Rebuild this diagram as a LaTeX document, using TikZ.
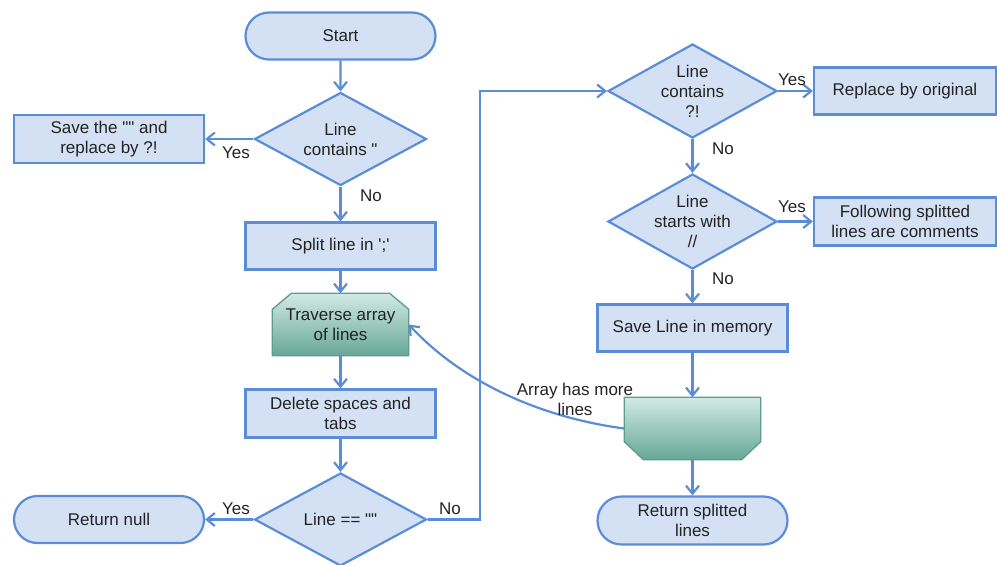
\documentclass[tikz,border=0pt]{standalone}
\usepackage{fontspec}
\newfontfamily\diagfont{Liberation Sans}
\usetikzlibrary{shapes.geometric,shapes.misc,arrows.meta,calc,backgrounds}
\definecolor{boxfill}{HTML}{D4E1F5}
\definecolor{boxline}{HTML}{5B8DD7}
\definecolor{tealtop}{HTML}{D2EAE3}
\definecolor{tealbot}{HTML}{66A796}
\definecolor{tealline}{HTML}{5E9C8B}
\definecolor{ink}{HTML}{222222}
\begin{document}
\begin{tikzpicture}[x=1pt,y=-1pt,
  font=\diagfont\fontsize{17}{20}\selectfont,
  box/.style={rectangle, draw=boxline, fill=boxfill, line width=2.2pt,
    minimum width=190pt, minimum height=47pt, align=center, inner sep=0pt, text=ink},
  term/.style={box, rounded rectangle},
  dec/.style={diamond, draw=boxline, fill=boxfill, line width=2.2pt,
    minimum width=172pt, minimum height=93pt, inner sep=0pt},
  loopbox/.style={rectangle, minimum width=136pt, minimum height=62pt,
    align=center, inner sep=0pt, text=ink},
  loopfill/.style={draw=tealline, top color=tealtop, bottom color=tealbot, line width=1.3pt},
  lbl/.style={align=center, text=ink, inner sep=0pt},
  arr/.style={draw=boxline, line width=2.2pt, -{Straight Barb[length=8pt,width=13pt]}}
]
\useasboundingbox (0,0) rectangle (997,565);

% left column
\node[term] (start) at (340.5,36) {Start};
\node[dec] (d1) at (340.5,139) {};
\node[lbl] at (d1) {Line\\contains "};
\node[box, minimum height=48pt] (save) at (109,139) {Save the "" and\\replace by ?!};
\node[box] (split) at (340.5,246) {Split line in ';'};
\node[loopbox] (trav) at (340.5,324.5) {Traverse array\\of lines};
\node[box, minimum height=48pt] (del) at (340.5,413.5) {Delete spaces and\\tabs};
\node[dec] (d2) at (340.5,519.5) {};
\node[lbl] at (d2) {Line == ""};
\node[term] (retnull) at (109,519.5) {Return null};

% right column
\node[dec, minimum width=169pt, minimum height=94pt] (d3) at (692.5,91) {};
\node[lbl] at (d3) {Line\\contains\\?!};
\node[box, minimum width=182pt] (repl) at (905,91) {Replace by original};
\node[dec, minimum width=169pt, minimum height=95pt] (d4) at (692.5,221.5) {};
\node[lbl] at (d4) {Line\\starts with\\//};
\node[box, minimum width=182pt, minimum height=48pt] (follow) at (905,221.5) {Following splitted\\lines are comments};
\node[box] (saveline) at (692.5,328) {Save Line in memory};
\node[loopbox] (more) at (692.5,428.5) {};
\node[term, minimum height=48pt] (retsplit) at (692.5,520.5) {Return splitted\\lines};

% loop limit shapes: chamfered top for the loop start, chamfered bottom for the loop end
\begin{scope}[on background layer]
  \shade[loopfill] ($(trav.north west)+(19,0)$) -- ($(trav.north east)+(-19,0)$)
    -- ($(trav.north east)+(0,16)$) -- (trav.south east) -- (trav.south west)
    -- ($(trav.north west)+(0,16)$) -- cycle;
  \shade[loopfill] (more.north west) -- (more.north east)
    -- ($(more.south east)+(0,-18)$) -- ($(more.south east)+(-19,0)$)
    -- ($(more.south west)+(19,0)$) -- ($(more.south west)+(0,-18)$) -- cycle;
\end{scope}

% connectors
\draw[arr] (start) -- (d1);
\draw[arr] (d1.west) -- (save.east);
\node[lbl] at (236,153) {Yes};
\draw[arr] (d1) -- (split);
\node[lbl] at (371,196) {No};
\draw[arr] (split) -- (trav);
\draw[arr] (trav) -- (del);
\draw[arr] (del) -- (d2);
\draw[arr] (d2.west) -- (retnull.east);
\node[lbl] at (236,509) {Yes};
\draw[arr] (d2.east) -- ++(52,0) coordinate (turn) |- (d3.west);
\node[lbl] at (450,509) {No};
\draw[arr] (d3.east) -- (repl.west);
\node[lbl] at (792,80) {Yes};
\draw[arr] (d3) -- (d4);
\node[lbl] at (723,149) {No};
\draw[arr] (d4.east) -- (follow.west);
\node[lbl] at (792,207) {Yes};
\draw[arr] (d4) -- (saveline);
\node[lbl] at (723,279) {No};
\draw[arr] (saveline) -- (more);
\draw[arr] (more) -- (retsplit);
\draw[arr] (more.west) .. controls (545,418) and (465,385) .. (trav.east);
\node[lbl] at (575,399) {Array has more\\lines};
\end{tikzpicture}
\end{document}
